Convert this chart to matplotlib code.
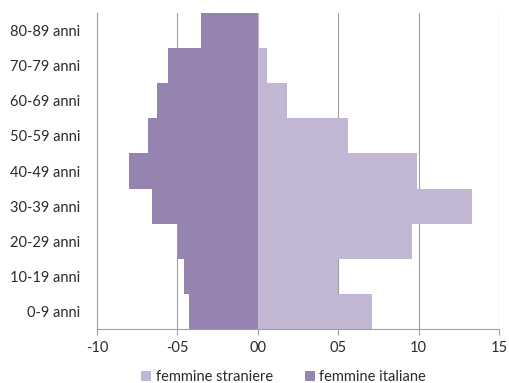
import numpy as np
import matplotlib.pyplot as plt

# age classes, bottom to top
classi = ['0-9 anni', '10-19 anni', '20-29 anni', '30-39 anni', '40-49 anni',
          '50-59 anni', '60-69 anni', '70-79 anni', '80-89 anni']
# percentages per class
straniere = [7.1, 5.0, 9.6, 13.3, 9.9, 5.6, 1.8, 0.55, 0.1]
italiane = [4.3, 4.6, 4.95, 6.55, 8.0, 6.85, 6.3, 5.6, 3.55]
xticks = [-10, -5, 0, 5, 10, 15]
xlabels = ['-10', '-05', '00', '05', '10', '15']

plt.rcParams['font.family'] = ['Lato', 'DejaVu Sans']

fig = plt.figure(figsize=(5.09, 3.83), dpi=100)
ax = fig.add_axes([0.1906, 0.141, 0.7898, 0.825])

y = np.arange(len(classi))
ax.barh(y, straniere, height=1.0, color='#c2b7d2', label='femmine straniere', zorder=2)
ax.barh(y, [-v for v in italiane], height=1.0, color='#9783b0', label='femmine italiane', zorder=2)

ax.set_xlim(-10, 15)
ax.set_ylim(-0.5, len(classi) - 0.5)
ax.set_xticks(xticks)
ax.set_xticklabels(xlabels, fontsize=10.5, color='#2b2b2b')
ax.set_yticks(y)
ax.set_yticklabels(classi, fontsize=10.5, color='#2b2b2b')
ax.tick_params(axis='y', length=0, pad=12)
ax.tick_params(axis='x', length=4, color='#a0a0a0', pad=5)

ax.xaxis.grid(True, color='#a0a0a0', linewidth=0.8, zorder=0)
ax.set_axisbelow(True)
for side in ['top', 'right']:
    ax.spines[side].set_visible(False)
for side in ['left', 'bottom']:
    ax.spines[side].set_color('#a0a0a0')
    ax.spines[side].set_linewidth(0.8)

fig.legend(loc='center', bbox_to_anchor=(0.557, 0.016), ncol=2, frameon=False,
           fontsize=10.5, handlelength=0.7, handleheight=0.7, handletextpad=0.3,
           columnspacing=2.2, labelcolor='#2b2b2b')

fig.savefig('out.png', dpi=100)
